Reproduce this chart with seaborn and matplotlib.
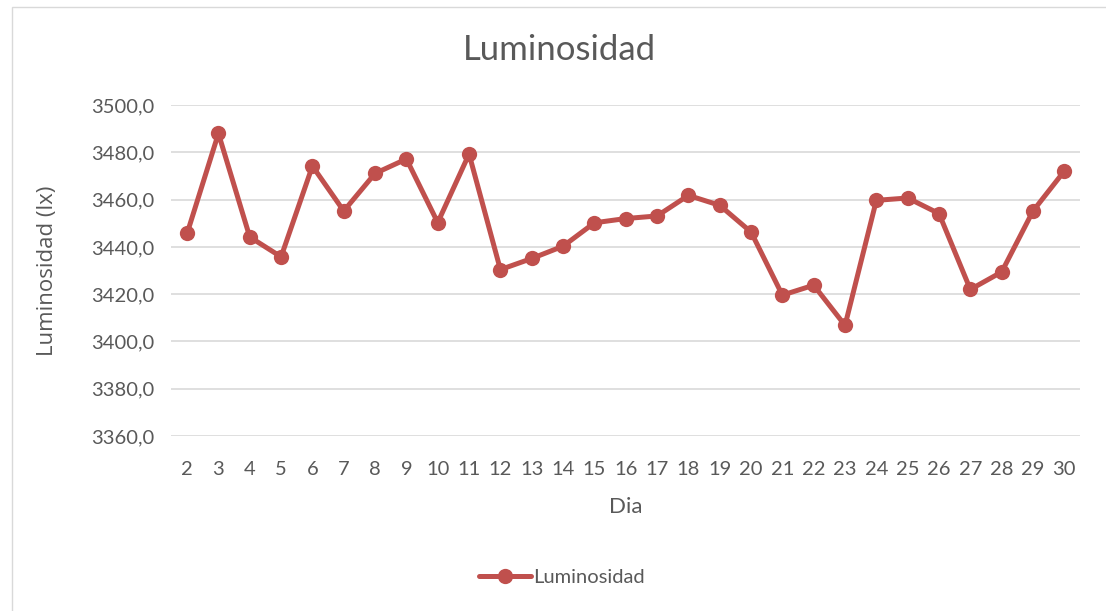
import pandas as pd
import matplotlib.pyplot as plt
import matplotlib.patches as mpatches
from matplotlib.lines import Line2D
from matplotlib.ticker import FuncFormatter
import seaborn as sns

# Luminosity readings per day
dias = list(range(2, 31))
luminosidad = [3445.7, 3488.0, 3444.2, 3435.8, 3474.2, 3455.2, 3471.1, 3477.2,
               3450.3, 3479.3, 3430.4, 3435.1, 3440.3, 3450.2, 3452.0, 3453.1,
               3461.8, 3457.6, 3446.3, 3419.6, 3423.8, 3406.8, 3459.7, 3460.7,
               3454.1, 3422.0, 3429.4, 3455.2, 3472.1]
y_ticks = [3360, 3380, 3400, 3420, 3440, 3460, 3480, 3500]

sns.set_style("white")
plt.rcParams['font.family'] = ['Lato', 'DejaVu Sans']

color = "#C0504D"
text_color = "#595959"


def main():
    df = pd.DataFrame({"Dia": dias, "Luminosidad": luminosidad})

    fig = plt.figure(figsize=(11.06, 6.11), dpi=100)
    ax = fig.add_axes([0.155, 0.2864, 0.8215, 0.5416])

    # outer chart border
    fig.patches.append(mpatches.Rectangle((12 / 1106, -0.05), 1.2, 1 - 7 / 611 + 0.05,
                                          transform=fig.transFigure, fill=False,
                                          edgecolor="#D9D9D9", linewidth=1))

    sns.lineplot(data=df, x="Dia", y="Luminosidad", ax=ax, color=color,
                 linewidth=3.6, marker="o", markersize=11, markeredgewidth=0)

    ax.set_xlim(1.5, 30.5)
    ax.set_ylim(3360, 3500)
    ax.set_xticks(dias)
    ax.set_yticks(y_ticks)
    ax.yaxis.set_major_formatter(FuncFormatter(lambda v, p: f"{v:.1f}".replace(".", ",")))
    ax.grid(axis="y", color="#D9D9D9", linewidth=1.2)
    ax.set_axisbelow(True)
    for s in ax.spines.values():
        s.set_visible(False)
    ax.tick_params(axis="both", length=0, labelsize=14.5, labelcolor=text_color)
    ax.tick_params(axis="x", pad=18)
    ax.tick_params(axis="y", pad=12)

    ax.set_xlabel("Dia", fontsize=16, color=text_color, labelpad=14)
    ax.set_ylabel("Luminosidad (lx)", fontsize=16, color=text_color,
                  family=["Open Sans", "DejaVu Sans"], labelpad=24)
    fig.text(0.506, 0.918, "Luminosidad", ha="center", va="center",
             fontsize=25, color=text_color)

    handle = Line2D([], [], color=color, linewidth=3.6, marker="o",
                    markersize=11, markeredgewidth=0)
    fig.legend([handle], ["Luminosidad"], loc="center", bbox_to_anchor=(0.508, 0.055),
               frameon=False, fontsize=14.5, labelcolor=text_color,
               handlelength=2.6, handletextpad=0.1)

    fig.savefig("out.png", dpi=100)
    plt.close(fig)


if __name__ == "__main__":
    main()
